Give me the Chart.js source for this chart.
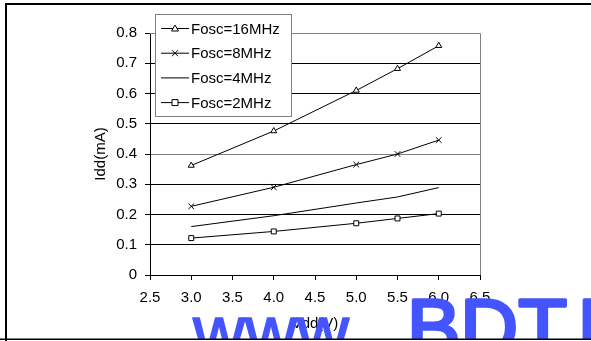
<!DOCTYPE html>
<html>
<head>
<meta charset="utf-8">
<script src="https://cdn.jsdelivr.net/npm/chart.js@4.4.1/dist/chart.umd.min.js"></script>
<style>
html, body { margin: 0; padding: 0; background: #fff; }
#wrap { width: 591px; height: 341px; position: relative; }
</style>
</head>
<body>
<div id="wrap"><canvas id="iddChart"></canvas></div>
<script>
// supply voltage (V) at each measured point
const vdd = [3, 4, 5, 5.5, 6];
// supply current (mA) per oscillator frequency
const idd16MHz = [0.362, 0.476, 0.61, 0.682, 0.758];
const idd8MHz = [0.227, 0.29, 0.365, 0.40, 0.446];
const idd4MHz = [0.16, 0.196, 0.238, 0.258, 0.289];
const idd2MHz = [0.122, 0.144, 0.171, 0.187, 0.203];
const seriesLabels = ['Fosc=16MHz', 'Fosc=8MHz', 'Fosc=4MHz', 'Fosc=2MHz'];
const seriesMarkers = ['triangle', 'crossRot', 'none', 'rect'];

const FONT = "'Liberation Sans', Arial, sans-serif";
Chart.defaults.font.family = FONT;
Chart.defaults.font.size = 15;
Chart.defaults.color = '#000';

function toPoints(ys) {
    return vdd.map((x, i) => ({ x: x, y: ys[i] }));
}

const allSeries = [idd16MHz, idd8MHz, idd4MHz, idd2MHz];
const datasets = allSeries.map((ys, i) => ({
    label: seriesLabels[i],
    data: toPoints(ys),
    borderColor: '#000',
    borderWidth: 1,
    backgroundColor: '#fff',
    pointStyle: seriesMarkers[i] === 'none' ? false : seriesMarkers[i],
    pointRadius: seriesMarkers[i] === 'none' ? 0 : (seriesMarkers[i] === 'crossRot' ? 4 : 3.5),
    pointBorderColor: '#000',
    pointBackgroundColor: '#fff',
    pointBorderWidth: 1,
    tension: 0
}));

function drawMarker(ctx, style, x, y) {
    ctx.save();
    ctx.strokeStyle = '#000';
    ctx.fillStyle = '#fff';
    ctx.lineWidth = 1;
    ctx.beginPath();
    if (style === 'triangle') {
        ctx.moveTo(x, y - 3.5);
        ctx.lineTo(x + 3.5, y + 2.5);
        ctx.lineTo(x - 3.5, y + 2.5);
        ctx.closePath();
        ctx.fill();
        ctx.stroke();
    } else if (style === 'crossRot') {
        ctx.moveTo(x - 3, y - 3); ctx.lineTo(x + 3, y + 3);
        ctx.moveTo(x + 3, y - 3); ctx.lineTo(x - 3, y + 3);
        ctx.stroke();
    } else if (style === 'rect') {
        ctx.rect(x - 3, y - 3, 6, 6);
        ctx.fill();
        ctx.stroke();
    }
    ctx.restore();
}

function heavyText(ctx, text, x, y, size, extra) {
    ctx.font = size + 'px ' + FONT;
    ctx.lineWidth = extra;
    ctx.lineJoin = 'round';
    ctx.fillText(text, x, y);
    ctx.strokeText(text, x, y);
}

const decorPlugin = {
    id: 'decor',
    beforeDatasetsDraw(chart) {
        const { ctx, chartArea: a } = chart;
        ctx.save();
        ctx.strokeStyle = '#808080';
        ctx.lineWidth = 1;
        ctx.beginPath();
        ctx.moveTo(a.left, a.top + 0.5);
        ctx.lineTo(a.right + 0.5, a.top + 0.5);
        ctx.lineTo(a.right + 0.5, a.bottom);
        ctx.stroke();
        ctx.restore();
    },
    afterDraw(chart) {
        const ctx = chart.ctx;
        // legend box
        const bx = 155, by = 14, bw = 136, bh = 102;
        ctx.save();
        ctx.fillStyle = '#fff';
        ctx.fillRect(bx, by, bw, bh);
        ctx.strokeStyle = '#808080';
        ctx.lineWidth = 1;
        ctx.strokeRect(bx + 0.5, by + 0.5, bw, bh);
        ctx.font = '15px ' + FONT;
        ctx.textBaseline = 'middle';
        ctx.fillStyle = '#000';
        seriesLabels.forEach((lab, i) => {
            const y = by + 14.5 + i * 24.7;
            ctx.strokeStyle = '#000';
            ctx.beginPath();
            ctx.moveTo(161, y);
            ctx.lineTo(189, y);
            ctx.stroke();
            drawMarker(ctx, seriesMarkers[i], 175, y);
            ctx.fillStyle = '#000';
            ctx.fillText(lab, 191, y + 1);
        });
        ctx.restore();

        // watermark over the picture
        ctx.save();
        ctx.beginPath();
        ctx.rect(0, 0, 591, 339);
        ctx.clip();
        ctx.fillStyle = '#4455ff';
        ctx.strokeStyle = '#4455ff';
        ctx.textBaseline = 'alphabetic';
        heavyText(ctx, 'www.', 193, 356, 72, 1.5);
        heavyText(ctx, 'BDT', 407, 355, 80, 3.5);
        heavyText(ctx, 'IC', 577, 355, 80, 3.5);
        ctx.restore();

        // outer frame
        ctx.save();
        ctx.fillStyle = '#000';
        ctx.fillRect(5, 3, 586, 2);
        ctx.fillRect(5, 3, 2, 338);
        ctx.fillRect(0, 338.5, 591, 1.5);
        ctx.restore();
    }
};

const iddChart = new Chart(document.getElementById('iddChart'), {
    type: 'line',
    data: { datasets: datasets },
    options: {
        responsive: true,
        maintainAspectRatio: false,
        animation: false,
        layout: { padding: { top: 33, right: 111, bottom: 0, left: 0 } },
        plugins: {
            legend: { display: false },
            tooltip: { enabled: false }
        },
        scales: {
            x: {
                type: 'linear',
                min: 2.5,
                max: 6.5,
                ticks: { stepSize: 0.5, padding: 9, color: '#000' },
                grid: { drawOnChartArea: false, drawTicks: true, tickLength: 5, tickColor: '#000' },
                border: { color: '#000', width: 1 },
                title: { display: true, text: 'Vdd(V)', color: '#000', font: { size: 15 }, padding: { top: 0, bottom: 8 } },
                afterFit(scale) { scale.height = 66; }
            },
            y: {
                min: 0,
                max: 0.8,
                ticks: { stepSize: 0.1, padding: 8, color: '#000' },
                grid: {
                    color: (c) => (Math.abs(c.tick.value - 0.4) < 1e-6 || Math.abs(c.tick.value - 0.8) < 1e-6) ? '#808080' : '#000',
                    tickColor: '#000',
                    tickLength: 5,
                    lineWidth: 1
                },
                border: { color: '#000', width: 1 },
                title: { display: true, text: 'Idd(mA)', color: '#000', font: { size: 15 }, padding: { top: 92, bottom: 0 } },
                afterFit(scale) { scale.width = 150; }
            }
        }
    },
    plugins: [decorPlugin]
});
</script>
</body>
</html>
